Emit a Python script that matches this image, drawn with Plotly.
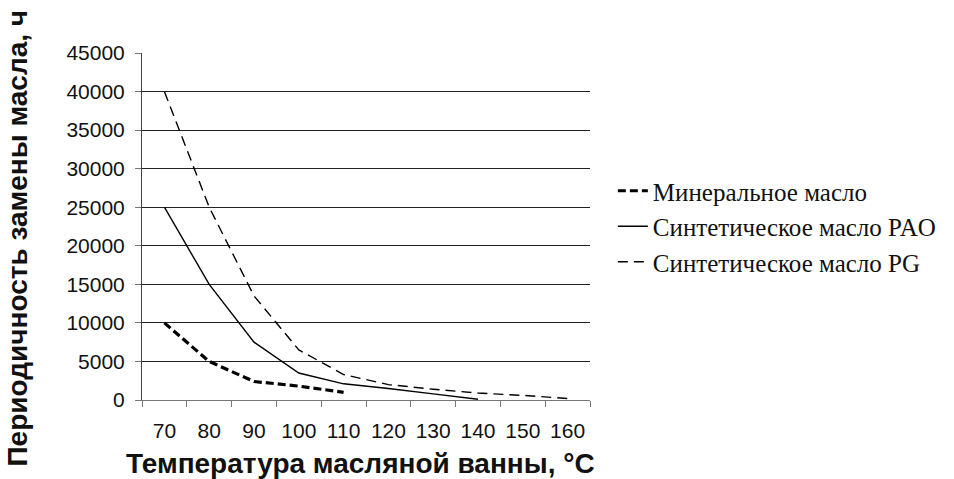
import plotly.graph_objects as go

# Oil bath temperature categories, °C
temps = ["70", "80", "90", "100", "110", "120", "130", "140", "150", "160"]

# Oil change interval, hours
mineral = [10000, 5000, 2400, 1800, 1000]
pao = [25000, 15000, 7500, 3500, 2100, 1500, 800, 100]
pg = [40000, 25000, 13500, 6500, 3300, 2000, 1400, 900, 600, 200]

y_ticks = [0, 5000, 10000, 15000, 20000, 25000, 30000, 35000, 40000, 45000]

names = ["Минеральное масло", "Синтетическое масло PAO", "Синтетическое масло PG"]

fig = go.Figure()
fig.add_trace(go.Scatter(
    x=temps[:len(mineral)], y=mineral, mode="lines", name=names[0],
    line=dict(color="black", width=3.2, dash="8px,4px"),
))
fig.add_trace(go.Scatter(
    x=temps[:len(pao)], y=pao, mode="lines", name=names[1],
    line=dict(color="black", width=1.4),
))
fig.add_trace(go.Scatter(
    x=temps[:len(pg)], y=pg, mode="lines", name=names[2],
    line=dict(color="black", width=1.4, dash="10px,6px"),
))

axis_font = dict(family="Liberation Sans, Arial, sans-serif", size=21, color="#111")
title_font = dict(family="Liberation Sans, Arial, sans-serif", size=28, color="#111")

fig.update_layout(
    width=954, height=479,
    margin=dict(l=142, r=364, t=53, b=79, autoexpand=False),
    paper_bgcolor="white", plot_bgcolor="white",
    showlegend=True,
    legend=dict(
        x=1.051, y=0.5, xanchor="left", yanchor="middle",
        font=dict(family="Liberation Serif, Times New Roman, serif", size=25, color="#111"),
        bgcolor="rgba(0,0,0,0)", itemwidth=30, tracegroupgap=0,
    ),
    xaxis=dict(
        type="category", categoryorder="array", categoryarray=temps,
        range=[-0.5, len(temps) - 0.5],
        tickson="boundaries", ticks="outside", ticklen=6, tickcolor="#777",
        ticklabelstandoff=12, tickangle=0,
        showline=True, linecolor="#777", linewidth=1,
        showgrid=False, zeroline=False,
        tickfont=axis_font,
    ),
    yaxis=dict(
        range=[0, 45000], tickvals=y_ticks, ticktext=[str(v) for v in y_ticks],
        ticks="outside", ticklen=6, tickcolor="#777",
        ticklabelstandoff=6,
        showline=True, linecolor="#444", linewidth=1,
        showgrid=True, gridcolor="#222", gridwidth=1,
        zeroline=False, tickfont=axis_font,
    ),
    annotations=[
        dict(text="<b>Температура масляной ванны, °C</b>", xref="paper", yref="paper",
             x=0.5, y=0, xshift=-6, yshift=-63, xanchor="center", yanchor="middle",
             showarrow=False, font=title_font),
        dict(text="<b>Периодичность замены масла, ч</b>", xref="paper", yref="paper",
             x=0, y=0.5, xshift=-125, yshift=-12, xanchor="center", yanchor="middle",
             textangle=-90, showarrow=False, font=title_font),
    ],
)

fig.write_html("out.html")
